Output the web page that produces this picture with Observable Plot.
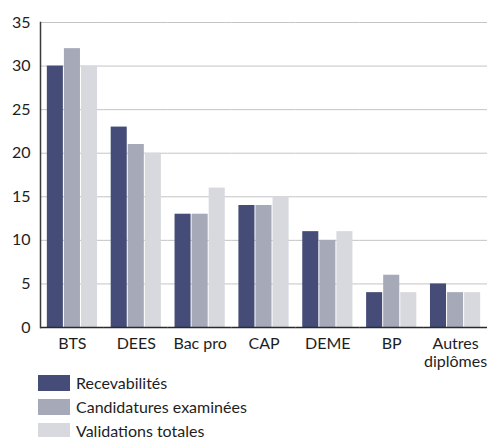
<!DOCTYPE html>
<html>
<head>
<meta charset="utf-8">
<script src="https://cdn.jsdelivr.net/npm/d3@7"></script>
<script src="https://cdn.jsdelivr.net/npm/@observablehq/plot@0.6"></script>
<style>
  html, body { margin: 0; padding: 0; background: #fff; }
  body { width: 489px; height: 437px; overflow: hidden; font-family: Lato, "Open Sans", sans-serif; color: #1e1e1e; }
  #chart svg { display: block; }
  #legend { margin-left: 38px; }
  .row { display: flex; align-items: center; height: 24px; font-size: 16px; line-height: 24px; }
  .sw { width: 32px; height: 16px; margin-right: 6px; flex: none; }
</style>
</head>
<body>
<div id="chart"></div>
<div id="legend"></div>
<script>
const categories = ["BTS", "DEES", "Bac pro", "CAP", "DEME", "BP", "Autres diplômes"];
const series = ["Recevabilités", "Candidatures examinées", "Validations totales"];
const recevabilites = [30, 23, 13, 14, 11, 4, 5];
const candidatures = [32, 21, 13, 14, 10, 6, 4];
const validations = [30, 20, 16, 15, 11, 4, 4];
const yTicks = [0, 5, 10, 15, 20, 25, 30, 35];
const colors = ["#454c78", "#a6a9b8", "#d7d9de"];

const valuesBySeries = [recevabilites, candidatures, validations];
const data = [];
categories.forEach((c, i) => {
  series.forEach((s, j) => data.push({category: c, series: s, value: valuesBySeries[j][i]}));
});

const chart = Plot.plot({
  width: 489,
  height: 371,
  marginTop: 22,
  marginBottom: 44,
  marginLeft: 40,
  marginRight: 2,
  style: {fontFamily: "Lato, 'Open Sans', sans-serif", fontSize: "16px", color: "#1e1e1e", background: "#fff"},
  fx: {domain: categories, padding: 0, round: false, label: null, axis: null},
  x: {domain: series, paddingInner: 0.06, paddingOuter: 0.4, round: false, axis: null},
  y: {domain: [0, 35], axis: null},
  color: {domain: series, range: colors},
  marks: [
    Plot.gridY(yTicks, {stroke: "#c4c4c4", strokeOpacity: 1, strokeWidth: 1}),
    Plot.barY(data, {fx: "category", x: "series", y: "value", fill: "series"}),
    Plot.ruleY([0], {stroke: "#2a2a2a", strokeWidth: 1.5}),
    Plot.axisY(yTicks, {tickSize: 0, tickPadding: 10, label: null, facetAnchor: "left", fill: "#1e1e1e"}),
    Plot.frame({anchor: "left", stroke: "#3a3a3a", strokeWidth: 1.5, facetAnchor: "left"}),
    Plot.axisFx({anchor: "bottom", tickSize: 0, tickPadding: 8, label: null, lineHeight: 1.15,
      fill: "#1e1e1e",
      tickFormat: d => d === "Autres diplômes" ? "Autres\ndiplômes" : d})
  ]
});
document.getElementById("chart").append(chart);

const legend = document.getElementById("legend");
series.forEach((s, j) => {
  const row = document.createElement("div");
  row.className = "row";
  const sw = document.createElement("span");
  sw.className = "sw";
  sw.style.background = colors[j];
  const t = document.createElement("span");
  t.textContent = s;
  row.append(sw, t);
  legend.append(row);
});
</script>
</body>
</html>
